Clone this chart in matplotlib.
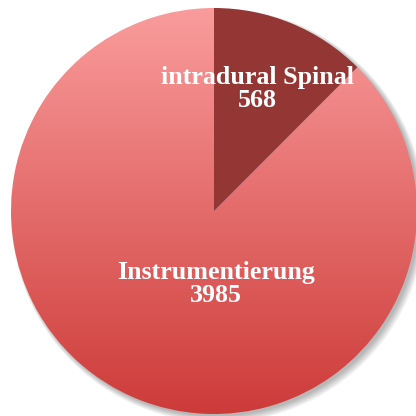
import matplotlib
matplotlib.use("Agg")
import matplotlib.pyplot as plt
import numpy as np
from matplotlib.colors import LinearSegmentedColormap
from matplotlib.patches import Circle

CATEGORIES = ["intradural Spinal", "Instrumentierung"]
VALUES = [568, 3985]

SMALL_COLOR = "#943634"
GRADIENT_TOP = "#FA9C9C"
GRADIENT_BOTTOM = "#CD3B39"

CENTER_PX = (214, 211)
RADIUS_PX = 203
SIZE_PX = 416


def main():
    figure = plt.figure(figsize=(SIZE_PX / 100, SIZE_PX / 100), dpi=100)
    axis = figure.add_axes([0, 0, 1, 1])
    axis.set_axis_off()

    # map pixel layout to data units (radius = 1)
    x_left = -CENTER_PX[0] / RADIUS_PX
    x_right = (SIZE_PX - CENTER_PX[0]) / RADIUS_PX
    y_bottom = -(SIZE_PX - CENTER_PX[1]) / RADIUS_PX
    y_top = CENTER_PX[1] / RADIUS_PX

    # soft shadow
    for step in range(6):
        shadow = Circle((0.012 + step * 0.002, -0.012 - step * 0.002), 1.0 + step * 0.004,
                        color="black", alpha=0.05, zorder=0, linewidth=0)
        axis.add_patch(shadow)

    wedges, _ = axis.pie(
        VALUES,
        startangle=90,
        counterclock=False,
        colors=[SMALL_COLOR, "none"],
        radius=1.0,
        wedgeprops={"linewidth": 0},
    )
    for wedge in wedges:
        wedge.set_zorder(2)

    gradient_map = LinearSegmentedColormap.from_list("pie_grad", [GRADIENT_BOTTOM, GRADIENT_TOP])
    gradient = np.linspace(0, 1, 256).reshape(-1, 1)
    image = axis.imshow(gradient, cmap=gradient_map, origin="lower",
                        extent=[-1, 1, -1, 1], aspect="auto", zorder=1)
    image.set_clip_path(wedges[1])

    axis.set_xlim(x_left, x_right)
    axis.set_ylim(y_bottom, y_top)
    axis.set_aspect("equal")

    font = {"family": ["Liberation Serif", "DejaVu Serif"], "weight": "bold", "size": 18.7}
    axis.text(0.212, 0.6, f"{CATEGORIES[0]}\n{VALUES[0]}", color="white",
              ha="center", va="center", linespacing=1.0, zorder=3, **font)
    axis.text(0.01, -0.36, f"{CATEGORIES[1]}\n{VALUES[1]}", color="white",
              ha="center", va="center", linespacing=1.0, zorder=3, **font)

    figure.savefig("out.png", dpi=100)
    plt.close(figure)


if __name__ == "__main__":
    main()
